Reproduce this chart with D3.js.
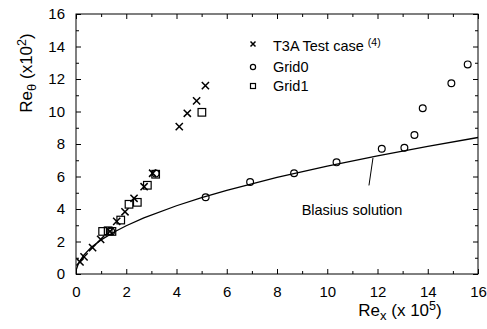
<!DOCTYPE html>
<html><head><meta charset="utf-8">
<script src="https://cdn.jsdelivr.net/npm/d3@7"></script>
<style>
html,body{margin:0;padding:0;background:#fff;}
svg{display:block;font-family:"Liberation Sans",Arial,sans-serif;}
</style></head>
<body>
<svg id="c" width="487" height="329"></svg>
<script>
// Data (Re_x in 1e5, Re_theta in 1e2)
const t3aX = [0.16,0.32,0.66,0.98,1.35,1.62,1.95,2.31,2.71,3.05,4.11,4.43,4.80,5.15];
const t3aY = [0.74,1.05,1.62,2.13,2.62,3.24,3.83,4.66,5.37,6.20,9.07,9.89,10.65,11.59];
const grid0X = [1.40,3.17,5.16,6.93,8.68,10.37,12.17,13.07,13.47,13.80,14.94,15.59];
const grid0Y = [2.62,6.18,4.72,5.66,6.20,6.87,7.71,7.77,8.55,10.20,11.74,12.90];
const grid1X = [1.06,1.28,1.43,1.78,2.11,2.44,2.84,3.17,5.01];
const grid1Y = [2.62,2.66,2.62,3.32,4.29,4.41,5.46,6.14,9.95];
const blasiusX = [0.02,0.1,0.3,0.6,1.0,1.5,2.0,2.7,4.0,5.0,6.0,8.0,10.0,12.0,14.0,16.0];
const blasiusY = [0.30,0.66,1.15,1.63,2.10,2.57,2.97,3.45,4.20,4.70,5.14,5.94,6.64,7.27,7.86,8.40];
const xMajor = [0,2,4,6,8,10,12,14,16];
const yMajor = [0,2,4,6,8,10,12,14,16];
const xMinor = [1,3,5,7,9,11,13,15];
const yMinor = [1,3,5,7,9,11,13,15];
const legendLabels = ["T3A Test case","Grid0","Grid1"];

const svg = d3.select("#c");
const L=76, R=478, T=14, B=274;
const x = d3.scaleLinear().domain([0,16]).range([L,R]);
const y = d3.scaleLinear().domain([0,16]).range([B,T]);

// frame
svg.append("rect").attr("x",L).attr("y",T).attr("width",R-L).attr("height",B-T)
  .attr("fill","none").attr("stroke","#000").attr("stroke-width",1);

function axisDraw(gen, tr, vals, size, pad){
  const g = svg.append("g").attr("transform",tr)
    .call(gen.tickValues(vals).tickSize(size).tickSizeOuter(0).tickPadding(pad||0)
      .tickFormat(pad? d3.format("d") : ()=>""));
  g.select(".domain").remove();
  g.selectAll(".tick line").attr("stroke","#000").attr("stroke-width",1);
  g.selectAll("text").attr("font-size",15).attr("fill","#000").attr("font-family","Liberation Sans, Arial, sans-serif");
  return g;
}
axisDraw(d3.axisBottom(x), `translate(0,${B})`, xMajor, -5, 12);
axisDraw(d3.axisBottom(x), `translate(0,${B})`, xMinor, -3, 0);
axisDraw(d3.axisTop(x), `translate(0,${T})`, xMajor, -5, 0);
axisDraw(d3.axisTop(x), `translate(0,${T})`, xMinor, -3, 0);
axisDraw(d3.axisLeft(y), `translate(${L},0)`, yMajor, -5, 11);
axisDraw(d3.axisLeft(y), `translate(${L},0)`, yMinor, -3, 0);
axisDraw(d3.axisRight(y), `translate(${R},0)`, yMajor, -5, 0);
axisDraw(d3.axisRight(y), `translate(${R},0)`, yMinor, -3, 0);

// Blasius line
const line = d3.line().x(d=>x(d[0])).y(d=>y(d[1]));
svg.append("path").datum(blasiusX.map((v,i)=>[v,blasiusY[i]]))
  .attr("d",line).attr("fill","none").attr("stroke","#000").attr("stroke-width",1.3);

// markers
function cross(g, cx, cy, s){
  g.append("path").attr("d",`M${cx-s},${cy-s}L${cx+s},${cy+s}M${cx-s},${cy+s}L${cx+s},${cy-s}`)
    .attr("stroke","#000").attr("stroke-width",1.5).attr("fill","none");
}
const marks = svg.append("g");
grid1X.forEach((v,i)=>{
  marks.append("rect").attr("x",x(v)-3.8).attr("y",y(grid1Y[i])-3.8).attr("width",7.6).attr("height",7.6)
    .attr("fill","none").attr("stroke","#000").attr("stroke-width",1.2);
});
grid0X.forEach((v,i)=>{
  marks.append("circle").attr("cx",x(v)).attr("cy",y(grid0Y[i])).attr("r",3.4)
    .attr("fill","none").attr("stroke","#000").attr("stroke-width",1.2);
});
t3aX.forEach((v,i)=>cross(marks, x(v), y(t3aY[i]), 3.6));

// legend
const lg = svg.append("g");
const lx = 253, ly = [46,67,86], tx = 273;
cross(lg, lx, ly[0]-2, 2.5);
lg.append("circle").attr("cx",lx).attr("cy",ly[1]).attr("r",2.6).attr("fill","none").attr("stroke","#000").attr("stroke-width",1.2);
lg.append("rect").attr("x",lx-2.5).attr("y",ly[2]-2.5).attr("width",5).attr("height",5).attr("fill","none").attr("stroke","#000").attr("stroke-width",1.2);
legendLabels.forEach((t,i)=>{
  const tt = lg.append("text").attr("x",tx).attr("y",ly[i]+5).attr("font-size",14.5).attr("fill","#000").text(t);
  if(i===0){
    tt.append("tspan").attr("dx",4).attr("dy",-5).attr("font-size",10.5).text("(4)");
  }
});

// annotation
svg.append("line").attr("x1",x(11.66)).attr("y1",y(5.45)).attr("x2",x(11.82)).attr("y2",y(7.14))
  .attr("stroke","#000").attr("stroke-width",1);
svg.append("text").attr("x",352).attr("y",215).attr("text-anchor","middle").attr("font-size",14.5)
  .attr("fill","#000").text("Blasius solution");

// axis titles
const xt = svg.append("text").attr("x",400).attr("y",316).attr("text-anchor","middle").attr("font-size",17).attr("fill","#000");
xt.append("tspan").text("Re");
xt.append("tspan").attr("dy",4).attr("font-size",13).text("x");
xt.append("tspan").attr("dy",-4).text(" (x 10");
xt.append("tspan").attr("dy",-6).attr("font-size",12.5).text("5");
xt.append("tspan").attr("dy",6).text(")");

const yt = svg.append("text").attr("transform","translate(32,73) rotate(-90)").attr("text-anchor","middle")
  .attr("font-size",17).attr("fill","#000");
yt.append("tspan").text("Re");
yt.append("tspan").attr("dy",4).attr("font-size",13).text("θ");
yt.append("tspan").attr("dy",-4).text(" (x10");
yt.append("tspan").attr("dy",-6).attr("font-size",12.5).text("2");
yt.append("tspan").attr("dy",6).text(")");
</script>
</body></html>
